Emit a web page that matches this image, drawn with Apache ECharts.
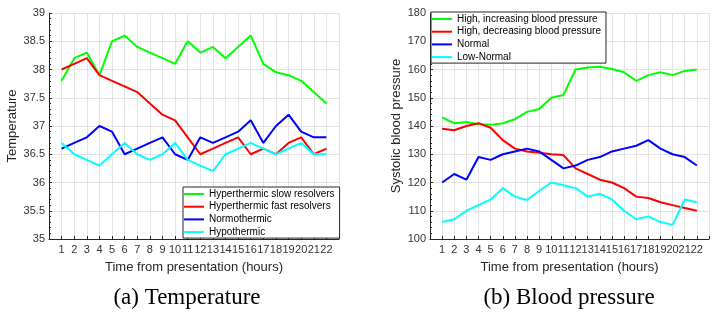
<!DOCTYPE html>
<html>
<head>
<meta charset="utf-8">
<script src="https://cdn.jsdelivr.net/npm/echarts@6/dist/echarts.min.js"></script>
<style>
html, body { margin: 0; padding: 0; background: #fff; }
#main { width: 712px; height: 314px; }
</style>
</head>
<body>
<div id="main"></div>
<script>
// hours from presentation
var hours = [1, 2, 3, 4, 5, 6, 7, 8, 9, 10, 11, 12, 13, 14, 15, 16, 17, 18, 19, 20, 21, 22];

// (a) temperature
var tempNames = ['Hyperthermic slow resolvers', 'Hyperthermic fast resolvers', 'Normothermic', 'Hypothermic'];
var tempSlow = [37.8, 38.2, 38.3, 37.9, 38.5, 38.6, 38.4, 38.3, 38.2, 38.1, 38.5, 38.3, 38.4, 38.2, 38.4, 38.6, 38.1, 37.95, 37.9, 37.8, 37.6, 37.4];
var tempFast = [38.0, 38.1, 38.2, 37.9, 37.8, 37.7, 37.6, 37.4, 37.2, 37.1, 36.8, 36.5, 36.6, 36.7, 36.8, 36.5, 36.6, 36.5, 36.7, 36.8, 36.5, 36.6];
var tempNormo = [36.6, 36.7, 36.8, 37.0, 36.9, 36.5, 36.6, 36.7, 36.8, 36.5, 36.4, 36.8, 36.7, 36.8, 36.9, 37.1, 36.7, 37.0, 37.2, 36.9, 36.8, 36.8];
var tempHypo = [36.7, 36.5, 36.4, 36.3, 36.5, 36.7, 36.5, 36.4, 36.5, 36.7, 36.4, 36.3, 36.2, 36.5, 36.6, 36.7, 36.6, 36.5, 36.6, 36.7, 36.5, 36.5];

// (b) blood pressure
var bpNames = ['High, increasing blood pressure', 'High, decreasing blood pressure', 'Normal', 'Low-Normal'];
var bpHighInc = [143, 141, 141.4, 140.6, 140.4, 141, 142.4, 145, 146, 150, 151, 160, 160.7, 161, 160.2, 159, 156, 158, 159, 158, 159.5, 160];
var bpHighDec = [139, 138.5, 140, 141, 139.4, 135, 132, 131, 130.5, 130, 129.7, 125, 123, 121, 120, 118, 115, 114.5, 113, 112, 111, 110];
var bpNormal = [120, 123, 121, 129, 128, 130, 131, 132, 131, 128, 125, 126, 128, 129, 131, 132, 133, 135, 132, 130, 129, 126];
var bpLowNormal = [106, 107, 110, 112, 114, 118, 115, 113.8, 117, 120, 119, 118, 115, 116, 114, 110, 107, 108, 106, 105, 114, 113];

var colors = ['#00ff00', '#ff0000', '#0000ff', '#00ffff'];
var dark = '#262626';
var gridColor = '#e3e3e3';
var sans = 'Liberation Sans';

function pairs(vals) {
    return hours.map(function (h, i) { return [h, vals[i]]; });
}

function lineSeries(name, vals, idx, color) {
    return {
        name: name,
        type: 'line',
        xAxisIndex: idx,
        yAxisIndex: idx,
        data: pairs(vals),
        symbol: 'none',
        showSymbol: false,
        color: color,
        lineStyle: { width: 2, color: color },
        animation: false
    };
}

function xAxisOf(idx) {
    return {
        gridIndex: idx,
        type: 'value',
        min: 0,
        max: 23,
        interval: 1,
        name: 'Time from presentation (hours)',
        nameLocation: 'middle',
        nameGap: 22,
        nameTextStyle: { fontFamily: sans, fontSize: 13, color: dark },
        axisLine: { show: true, lineStyle: { color: dark, width: 1 } },
        axisTick: { show: true, inside: true, length: 3, lineStyle: { color: dark } },
        axisLabel: {
            fontFamily: sans, fontSize: 11, color: '#333', margin: 5,
            formatter: function (v) { return (v < 1 || v > 22) ? '' : String(v); }
        },
        splitLine: { show: true, lineStyle: { color: gridColor, width: 1 } }
    };
}

function yAxisOf(idx, name, min, max, interval, gap) {
    return {
        gridIndex: idx,
        type: 'value',
        min: min,
        max: max,
        interval: interval,
        name: name,
        nameLocation: 'middle',
        nameGap: gap,
        nameTextStyle: { fontFamily: sans, fontSize: 13, color: dark },
        axisLine: { show: true, lineStyle: { color: dark, width: 1 } },
        axisTick: { show: true, inside: true, length: 3, lineStyle: { color: dark } },
        minorTick: { show: true, splitNumber: 5, length: 2, lineStyle: { color: dark } },
        axisLabel: { fontFamily: sans, fontSize: 11, color: '#333', margin: 4 },
        splitLine: { show: true, lineStyle: { color: gridColor, width: 1 } }
    };
}

function legendOf(names, left, top) {
    return {
        data: names,
        orient: 'vertical',
        left: left,
        top: top,
        icon: 'rect',
        itemWidth: 20,
        itemHeight: 2,
        itemGap: 0.7,
        padding: [1, 5, 0, 1],
        backgroundColor: '#fff',
        borderColor: dark,
        borderWidth: 1,
        borderRadius: 0,
        selectedMode: false,
        textStyle: { fontFamily: sans, fontSize: 10, color: '#000', lineHeight: 12 }
    };
}

var chart = echarts.init(document.getElementById('main'), null, { renderer: 'canvas' });

chart.setOption({
    animation: false,
    grid: [
        { left: 49, top: 13, width: 290, bottom: 75 },
        { left: 430, top: 13, right: -9, bottom: 75 }
    ],
    xAxis: [xAxisOf(0), xAxisOf(1)],
    yAxis: [
        yAxisOf(0, 'Temperature', 35, 39, 0.5, 30),
        yAxisOf(1, 'Systolic blood pressure', 100, 180, 10, 27)
    ],
    legend: [
        legendOf(tempNames, 183, 187),
        legendOf(bpNames, 431, 12)
    ],
    series: [
        lineSeries(tempNames[0], tempSlow, 0, colors[0]),
        lineSeries(tempNames[1], tempFast, 0, colors[1]),
        lineSeries(tempNames[2], tempNormo, 0, colors[2]),
        lineSeries(tempNames[3], tempHypo, 0, colors[3]),
        lineSeries(bpNames[0], bpHighInc, 1, colors[0]),
        lineSeries(bpNames[1], bpHighDec, 1, colors[1]),
        lineSeries(bpNames[2], bpNormal, 1, colors[2]),
        lineSeries(bpNames[3], bpLowNormal, 1, colors[3])
    ],
    graphic: [
        {
            type: 'text', x: 187, y: 298,
            style: { text: '(a) Temperature', font: '23px "Liberation Serif"', fill: '#000', textAlign: 'center', textVerticalAlign: 'middle' }
        },
        {
            type: 'text', x: 569, y: 298,
            style: { text: '(b) Blood pressure', font: '23px "Liberation Serif"', fill: '#000', textAlign: 'center', textVerticalAlign: 'middle' }
        }
    ]
});
</script>
</body>
</html>
